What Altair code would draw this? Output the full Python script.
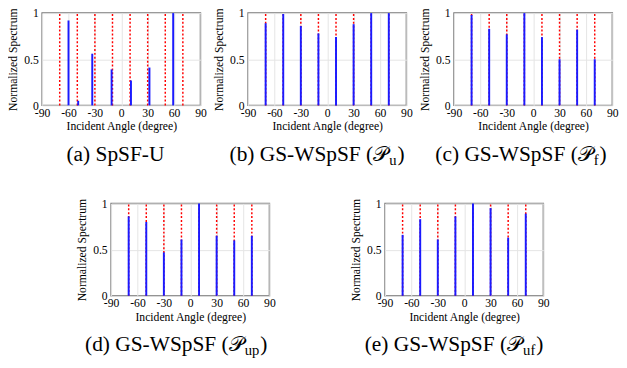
import altair as alt
import pandas as pd

# ---------------- data ----------------
true_angles = [-70, -50, -30, -10, 10, 30, 50, 70]

a_angles = [-60, -49, -33, -11, 11, 32, 59]
a_vals = [0.92, 0.05, 0.56, 0.39, 0.27, 0.41, 1.0]

b_angles = [-70, -50, -30, -10, 10, 30, 50, 70]
b_vals = [0.89, 0.99, 0.86, 0.78, 0.74, 0.88, 1.0, 1.0]

c_angles = [-70, -50, -30, -10, 10, 30, 50, 70]
c_vals = [0.98, 0.83, 0.77, 1.0, 0.74, 0.50, 0.82, 0.50]

d_angles = [-70, -50, -30, -10, 10, 30, 50, 70]
d_vals = [0.86, 0.80, 0.47, 0.61, 1.0, 0.65, 0.60, 0.65]

e_angles = [-70, -50, -30, -10, 10, 30, 50, 70]
e_vals = [0.66, 0.83, 0.61, 0.86, 1.0, 0.95, 0.63, 0.89]

x_ticks = [-90, -60, -30, 0, 30, 60, 90]
y_ticks = [0, 0.5, 1]

caption_main = ["(a) SpSF-U", "(b) GS-WSpSF (", "(c) GS-WSpSF (", "(d) GS-WSpSF (", "(e) GS-WSpSF ("]
caption_script = ["", "\U0001D4AB", "\U0001D4AB", "\U0001D4AB", "\U0001D4AB"]
caption_sub = ["", "u", "f", "up", "uf"]
caption_close = ["", ")", ")", ")", ")"]

x_title = "Incident Angle  (degree)"
y_title = "Normalized Spectrum"

# ---------------- style ----------------
FONT = "Liberation Serif"
W, H = 163, 95
CAP_SIZE = 22
SUB_SIZE = 15
CAP_Y = H + 57

# Times-like advance widths (em) for caption layout
EM = {" ": 0.25, "(": 0.333, ")": 0.333, "a": 0.444, "b": 0.5, "c": 0.444, "d": 0.5,
      "e": 0.444, "f": 0.333, "p": 0.5, "u": 0.5, "G": 0.722, "S": 0.556, "W": 0.944,
      "F": 0.556, "U": 0.722, "-": 0.333}
SCRIPT_EM = 0.75


def text_width(s, size):
    return sum(EM.get(ch, 0.5) for ch in s) * size


def caption_layers(i, dx):
    layers = []
    cx = W / 2 + dx
    if not caption_sub[i]:
        df = pd.DataFrame({"t": [caption_main[i]]})
        layers.append(alt.Chart(df).mark_text(font=FONT, fontSize=CAP_SIZE, align="center",
                                              baseline="alphabetic", color="black")
                      .encode(text="t:N", x=alt.value(cx), y=alt.value(CAP_Y)))
        return layers
    w1 = text_width(caption_main[i], CAP_SIZE)
    wp = SCRIPT_EM * CAP_SIZE
    ws = text_width(caption_sub[i], SUB_SIZE)
    wc = text_width(caption_close[i], CAP_SIZE)
    start = cx - (w1 + wp + ws + wc) / 2
    anchor = start + w1
    pieces = [
        (caption_main[i], anchor, CAP_Y, CAP_SIZE, "right"),
        (caption_script[i], anchor, CAP_Y, CAP_SIZE, "left"),
        (caption_sub[i], anchor + wp, CAP_Y + 4, SUB_SIZE, "left"),
        (caption_close[i], anchor + wp + ws + 1, CAP_Y, CAP_SIZE, "left"),
    ]
    for txt, px, py, fs, al in pieces:
        df = pd.DataFrame({"t": [txt]})
        layers.append(alt.Chart(df).mark_text(font=FONT, fontSize=fs, align=al,
                                              baseline="alphabetic", color="black")
                      .encode(text="t:N", x=alt.value(px), y=alt.value(py)))
    return layers


def panel(i, est_angles, est_vals, dx):
    xenc = alt.X("angle:Q", scale=alt.Scale(domain=[-90, 90], nice=False, zero=False),
                 axis=alt.Axis(values=x_ticks, title=x_title, labelExpr="datum.value + ''",
                               labelFlush=False, labelOverlap=False))
    yenc = alt.Y("lo:Q", scale=alt.Scale(domain=[0, 1], nice=False),
                 axis=alt.Axis(values=y_ticks, title=y_title, format="~g",
                               labelFlush=False, labelOverlap=False))
    truth = pd.DataFrame({"angle": true_angles, "lo": [0.0] * len(true_angles),
                          "hi": [1.0] * len(true_angles)})
    est = pd.DataFrame({"angle": est_angles, "lo": [0.0] * len(est_angles), "val": est_vals})
    red = alt.Chart(truth).mark_rule(color="#ff0000", strokeDash=[2, 2], strokeWidth=1.5).encode(
        x=xenc, y=yenc, y2="hi:Q")
    blue = alt.Chart(est).mark_rule(color="#1a1aff", strokeWidth=2).encode(
        x=xenc, y=yenc, y2="val:Q")
    return alt.layer(red, blue, *caption_layers(i, dx)).properties(width=W, height=H)


pa = panel(0, a_angles, a_vals, -6)
pb = panel(1, b_angles, b_vals, -11)
pc = panel(2, c_angles, c_vals, -13)
pd_ = panel(3, d_angles, d_vals, -15)
pe = panel(4, e_angles, e_vals, -11)

top = alt.hconcat(pa, pb, pc, spacing=49, bounds="flush")
bottom = alt.hconcat(pd_, pe, spacing=119, bounds="flush")

chart = alt.vconcat(top, bottom, spacing=29, center=True).properties(
    padding={"left": -2, "top": -7, "right": 0, "bottom": 0}
).configure_view(
    stroke="#7a7a7a", strokeWidth=1.5
).configure_axis(
    labelFont=FONT, titleFont=FONT, labelFontSize=12, titleFontSize=12,
    titleFontWeight="normal", labelColor="black", titleColor="black",
    grid=True, gridColor="#e4e4e4", gridWidth=1, domain=False, ticks=False,
    labelPadding=2, titlePadding=3
).configure_axisY(titlePadding=4, labelPadding=4)

chart.save("out.html", embed_options={"renderer": "svg", "actions": False})
